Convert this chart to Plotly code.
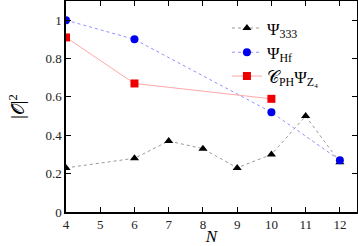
import plotly.graph_objects as go

N333 = [4, 6, 7, 8, 9, 10, 11, 12]
psi333 = [0.23, 0.28, 0.37, 0.33, 0.23, 0.30, 0.50, 0.26]
Nhf = [4, 6, 10, 12]
psihf = [1.0, 0.90, 0.52, 0.27]
Nph = [4, 6, 10]
psiph = [0.91, 0.67, 0.59]
xticks = [4, 5, 6, 7, 8, 9, 10, 11, 12]
yticks = [0, 0.2, 0.4, 0.6, 0.8, 1]
ytext = ["0", "0.2", "0.4", "0.6", "0.8", "1"]

font = "Liberation Serif"
fig = go.Figure()
fig.add_trace(go.Scatter(x=N333, y=psi333, mode="lines+markers", name="Ψ<sub>333</sub>",
    line=dict(color="#999999", width=1, dash="dot"),
    marker=dict(symbol="triangle-up", color="black", size=8), legend="legend"))
fig.add_trace(go.Scatter(x=Nhf, y=psihf, mode="lines+markers", name="Ψ<sub>Hf</sub>",
    line=dict(color="#9090ff", width=1, dash="dot"),
    marker=dict(symbol="circle", color="#0000ee", size=8), legend="legend2"))
fig.add_trace(go.Scatter(x=Nph, y=psiph, mode="lines+markers", name="𝒞<sub>PH</sub>Ψ<sub>Z₄</sub>",
    line=dict(color="#ff9090", width=0.8),
    marker=dict(symbol="square", color="#ee0000", size=8), legend="legend3"))

axis = dict(showgrid=False, zeroline=False, showline=True, linecolor="black", linewidth=1.5,
            mirror="ticks", ticks="inside", ticklen=5, tickcolor="black", automargin=False,
            tickfont=dict(family=font, size=13, color="#222"))
leg = dict(x=0.553, xanchor="left", yanchor="middle", bgcolor="rgba(0,0,0,0)",
           font=dict(family=font, size=17), itemwidth=30)
fig.update_layout(
    width=358, height=246, margin=dict(l=66, r=1, t=1, b=34),
    plot_bgcolor="white", paper_bgcolor="white",
    font=dict(family=font, color="black"),
    xaxis=dict(range=[4, 12.5], tickvals=xticks, **axis,
               title=dict(text="<i>N</i>", font=dict(family=font, size=17), standoff=0)),
    yaxis=dict(range=[0, 1.1], tickvals=yticks, ticktext=ytext, **axis,
               title=dict(text="|𝒪|<sup>2</sup>", font=dict(family=font, size=18), standoff=16)),
    legend=dict(y=0.87, **leg),
    legend2=dict(y=0.755, **leg),
    legend3=dict(y=0.642, **leg),
    showlegend=True,
)
fig.write_html("out.html", config={"displayModeBar": False},
               post_script="document.body.style.margin='0';")
